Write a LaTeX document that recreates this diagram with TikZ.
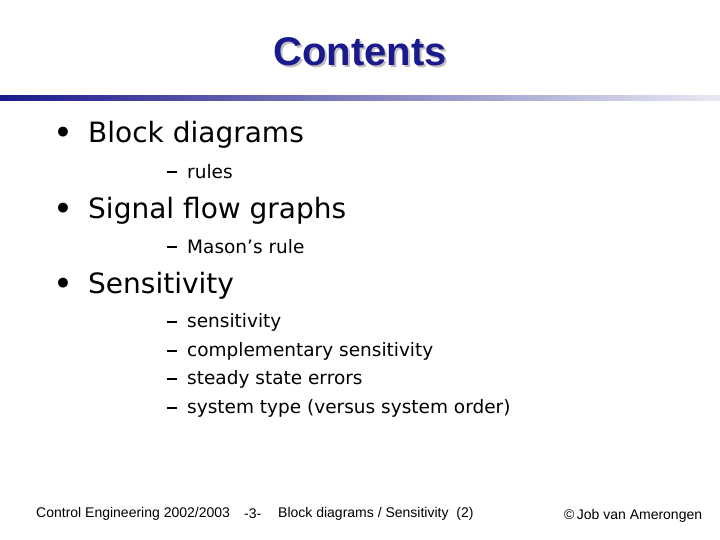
\documentclass[tikz,border=0pt]{standalone}
\usepackage{fontspec}
\setmainfont{Liberation Sans}
\newfontfamily\comic{DejaVu Sans}
\definecolor{navy}{RGB}{26,26,140}
\definecolor{shad}{RGB}{190,190,190}
\begin{document}
\begin{tikzpicture}[x=1pt,y=-1pt,
  head/.style={anchor=west,inner sep=0,font=\comic\fontsize{28}{30}\selectfont},
  sub/.style={anchor=west,inner sep=0,font=\comic\fontsize{18.5}{20}\selectfont},
  foot/.style={anchor=west,inner sep=0,font=\fontsize{14}{15}\selectfont}]
\useasboundingbox (0,0) rectangle (720,540);
\fill[left color=navy, right color=navy!10] (0,96) rectangle (720,101);
\node[inner sep=0,text=shad,font=\bfseries\fontsize{40}{42}\selectfont] (ts) at (362,54) {Contents};
\node[inner sep=0,text=navy,font=\bfseries\fontsize{40}{42}\selectfont] (t) at (360,52) {Contents};
\foreach \y/\t [count=\i] in {135/Block diagrams,211/Signal flow graphs,286/Sensitivity}{
  \node[head] (b\i) at (54,\y) {\textbf{•}};
  \node[head] (h\i) at (88,\y) {\t};
}
\foreach \y/\t [count=\i] in {172/rules,247/Mason’s rule,322/sensitivity,351/complementary sensitivity,379/steady state errors,408/system type (versus system order)}{
  \node[sub] (d\i) at (167,\y) {\rule{10pt}{1.3pt}};
  \node[sub] (s\i) at (187,\y) {\t};
}
\node[foot] (f1) at (36,514) {Control Engineering 2002/2003};
\node[foot] (f2) at (244,514) {-3-};
\node[foot] (f3) at (278,514) {Block diagrams / Sensitivity\ \ (2)};
\node[foot] (f4) at (564,516) {©\,Job van Amerongen};
\end{tikzpicture}
\end{document}
